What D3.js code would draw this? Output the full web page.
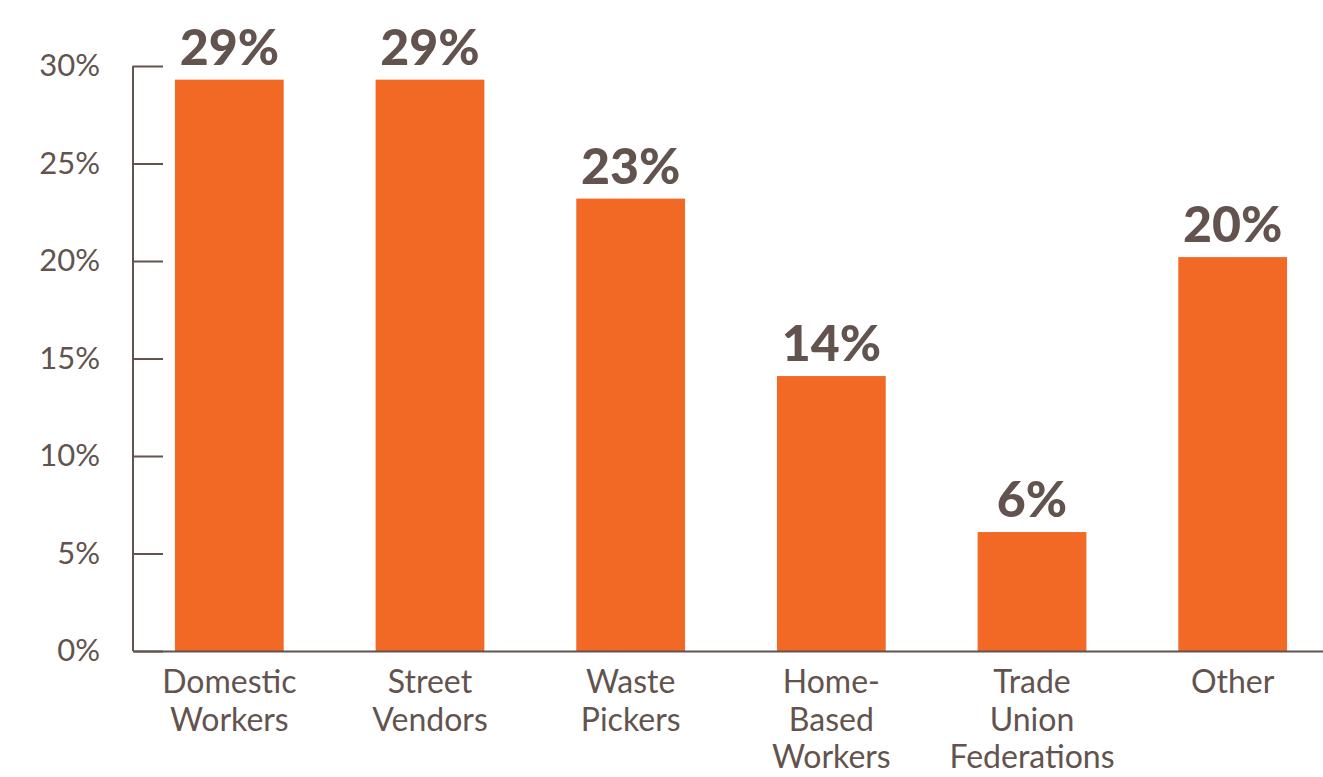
<!DOCTYPE html>
<html>
<head>
<meta charset="utf-8">
<script src="https://cdn.jsdelivr.net/npm/d3@7"></script>
<style>
  body { margin: 0; background: #fff; }
  svg { font-family: Lato, "Open Sans", sans-serif; }
</style>
</head>
<body>
<script>
// categories (multi-line labels) and values in percent
const categories = [
  ["Domestic", "Workers"],
  ["Street", "Vendors"],
  ["Waste", "Pickers"],
  ["Home-", "Based", "Workers"],
  ["Trade", "Union", "Federations"],
  ["Other"]
];
const values = [29.3, 29.3, 23.2, 14.1, 6.1, 20.2];
const valueLabels = ["29%", "29%", "23%", "14%", "6%", "20%"];
const yTicks = [0, 5, 10, 15, 20, 25, 30];

const w = 1323, h = 777;
const x0 = 133, yBase = 651, yTop = 66;
const textColor = "#63534f";
const barColor = "#f26925";

const keys = categories.map(function(d){ return d.join(" "); });

const xScale = d3.scaleBand()
  .domain(keys)
  .range([x0, 1329])
  .paddingInner(0.458)
  .paddingOuter(0.209);

const yScale = d3.scaleLinear()
  .domain([0, 30])
  .range([yBase, yTop]);

const svg = d3.select("body")
  .append("svg")
  .attr("width", w)
  .attr("height", h);

// bars
svg.selectAll("rect.bar")
  .data(values)
  .enter()
  .append("rect")
  .attr("class", "bar")
  .attr("x", function(d, i){ return xScale(keys[i]); })
  .attr("y", function(d){ return yScale(d); })
  .attr("width", xScale.bandwidth())
  .attr("height", function(d){ return yBase - yScale(d); })
  .attr("fill", barColor);

// value labels
svg.selectAll("text.val")
  .data(values)
  .enter()
  .append("text")
  .attr("class", "val")
  .attr("x", function(d, i){ return xScale(keys[i]) + xScale.bandwidth() / 2; })
  .attr("y", function(d){ return yScale(d) - 15; })
  .attr("text-anchor", "middle")
  .attr("font-size", 50)
  .attr("font-weight", 900)
  .attr("fill", textColor)
  .text(function(d, i){ return valueLabels[i]; });

// y axis
const yAxis = d3.axisLeft(yScale)
  .tickValues(yTicks)
  .tickFormat(function(d){ return d + "%"; })
  .tickSize(0)
  .tickPadding(33);

const gy = svg.append("g")
  .attr("transform", "translate(" + x0 + ",0)")
  .call(yAxis);
gy.select(".domain").remove();
gy.selectAll("text")
  .attr("font-size", 31)
  .attr("font-family", "Lato, sans-serif")
  .attr("fill", textColor);
gy.selectAll(".tick line")
  .attr("x1", 0)
  .attr("x2", 30)
  .attr("stroke", textColor)
  .attr("stroke-width", 2);

svg.append("line")
  .attr("x1", x0).attr("x2", x0)
  .attr("y1", yTop).attr("y2", yBase)
  .attr("stroke", textColor)
  .attr("stroke-width", 2);

// x axis
const xAxis = d3.axisBottom(xScale).tickSize(0).tickFormat("");
const gx = svg.append("g")
  .attr("transform", "translate(0," + yBase + ")")
  .call(xAxis);
gx.select(".domain")
  .attr("stroke", textColor)
  .attr("stroke-width", 2);

// category labels
gx.selectAll(".tick").each(function(d, i){
  const t = d3.select(this).append("text")
    .attr("text-anchor", "middle")
    .attr("font-size", 32)
    .attr("font-family", "Lato, sans-serif")
    .attr("fill", textColor);
  categories[i].forEach(function(line, j){
    t.append("tspan")
      .attr("x", 0)
      .attr("y", 42 + j * 37.5)
      .text(line);
  });
});
</script>
</body>
</html>
